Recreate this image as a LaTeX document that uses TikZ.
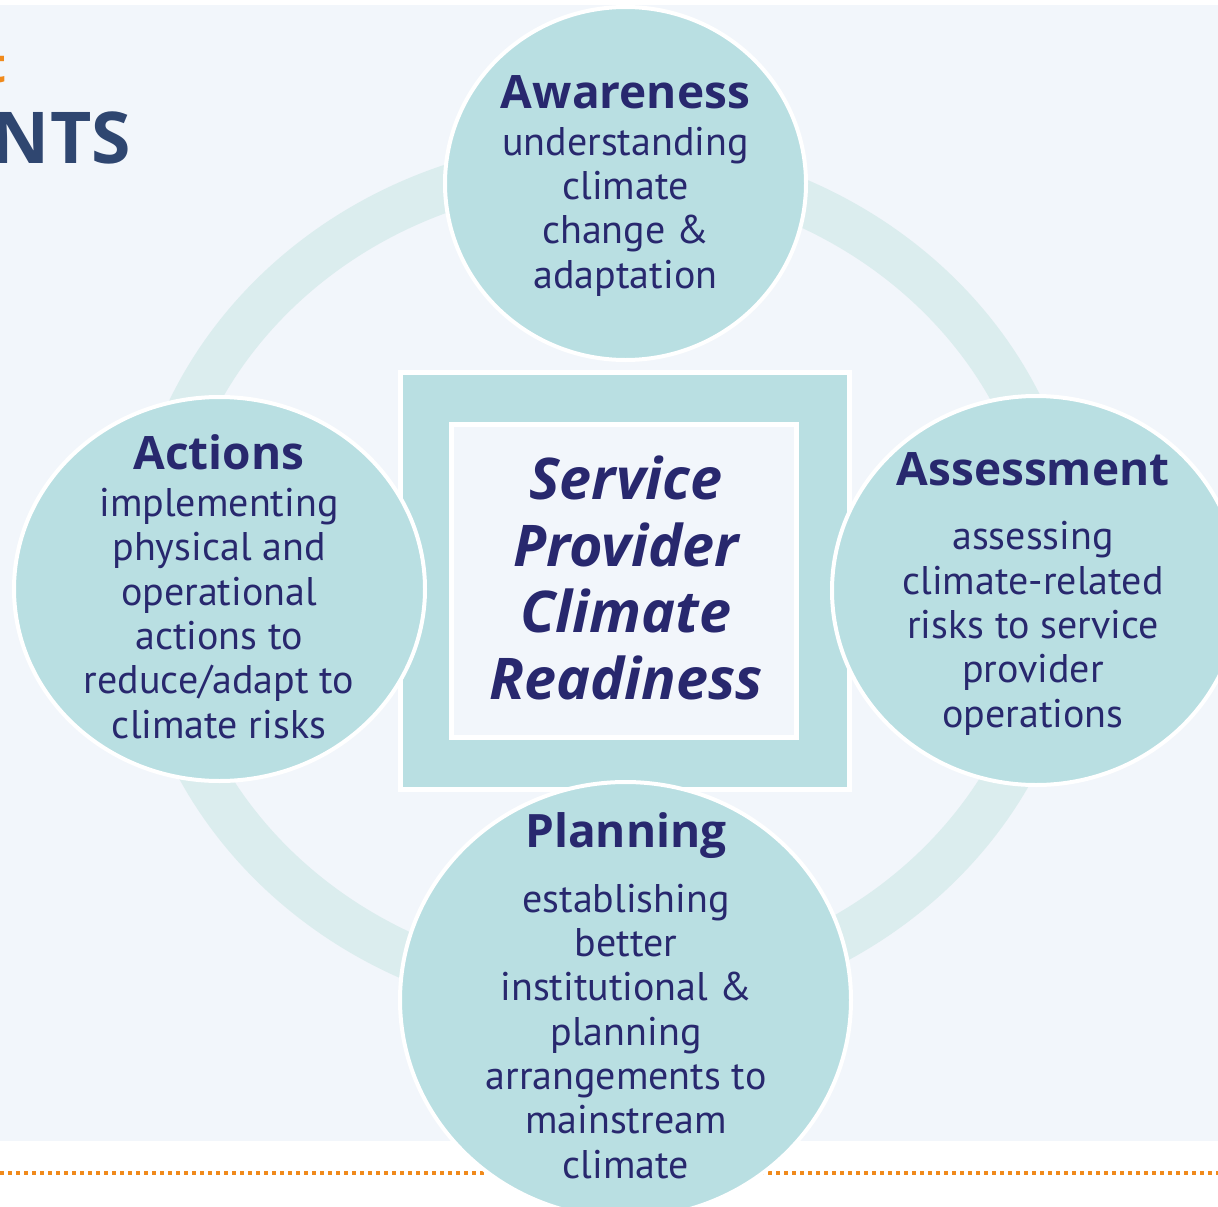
\documentclass[tikz,border=0pt]{standalone}
\usepackage{fontspec}
\setmainfont{PT Sans}
\newfontfamily\hfont{Open Sans}
\usetikzlibrary{shapes.geometric}
\definecolor{panel}{HTML}{F2F6FB}
\definecolor{bubc}{HTML}{B9DFE2}
\definecolor{ringc}{HTML}{DBEDEE}
\definecolor{navy}{HTML}{28286E}
\definecolor{slate}{HTML}{2F4670}
\definecolor{orng}{HTML}{F08A1C}
\newcommand{\bubtitle}[1]{{\hfont\bfseries\fontsize{46}{44.3}\selectfont #1}}
\begin{document}
\begin{tikzpicture}[x=1pt,y=-1pt,
  bubble/.style={ellipse, fill=bubc, draw=white, line width=4pt, inner sep=0pt},
  sqbox/.style={rectangle, draw=white, line width=5pt, inner sep=0pt},
  bodytxt/.style={align=center, text=navy, inner sep=0pt, anchor=base,
    font=\fontsize{40}{44.3}\selectfont}]
\useasboundingbox (0,0) rectangle (1218,1207);
\clip (0,0) rectangle (1218,1207);
\fill[white] (0,0) rectangle (1218,1207);
\fill[panel] (0,5) rectangle (1218,1141);
% header fragments
\node[anchor=base east, inner sep=0pt, text=orng, font=\hfont\bfseries\fontsize{48}{60}\selectfont] (hdra) at (7,82) {t};
\node[anchor=base east, inner sep=0pt, text=slate, font=\hfont\bfseries\fontsize{71.5}{80}\selectfont] (hdrb) at (131,163) {NTS};
% dotted rule
\coordinate (dl) at (0,1173);
\coordinate (dr) at (1218,1173);
\draw[orng, line width=4pt, dash pattern=on 4pt off 4pt] (dl) -- (dr);
% ring
\draw[ringc, line width=46pt] (606,580) ellipse [x radius=455pt, y radius=418pt];
% centre squares
\node[sqbox, fill=bubc, minimum width=449pt, minimum height=417pt] (outer) at (624.5,580.5) {};
\node[sqbox, fill=panel, minimum width=345pt, minimum height=313pt] (inner) at (623.5,580.5) {};
\node[align=center, text=navy, inner sep=0pt,
  font=\hfont\bfseries\itshape\fontsize{57.5}{66.5}\selectfont] (core) at (626,578)
  {Service\\Provider\\Climate\\Readiness};
% bubbles
\node[bubble, minimum width=361pt, minimum height=353pt] (aw) at (625.5,183.5) {};
\node[bubble, minimum width=411pt, minimum height=384pt] (ac) at (219.5,589) {};
\node[bubble, minimum width=408pt, minimum height=389pt] (as) at (1036,590.5) {};
\node[bubble, minimum width=451pt, minimum height=436pt] (pl) at (625.5,1000) {};
% bubble texts (base = baseline of the last line)
\node[bodytxt] (awt) at (625.5,288)
  {\bubtitle{Awareness}\\[2.7pt]understanding\\climate\\change \&\\adaptation};
\node[bodytxt] (act) at (219,738)
  {\bubtitle{Actions}\\[2.7pt]implementing\\physical and\\operational\\actions to\\reduce/adapt to\\climate risks};
\node[bodytxt] (ast) at (1033,727)
  {\bubtitle{Assessment}\\[19.7pt]assessing\\climate-related\\risks to service\\provider\\operations};
\node[bodytxt] (plt) at (626,1178)
  {\bubtitle{Planning}\\[20.7pt]establishing\\better\\institutional \&\\planning\\arrangements to\\mainstream\\climate};
\end{tikzpicture}
\end{document}
